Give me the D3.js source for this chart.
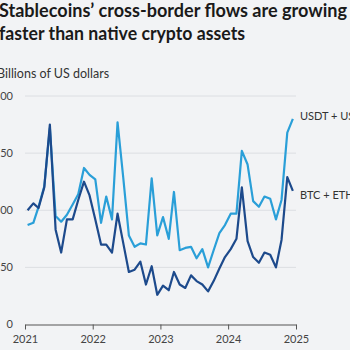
<!DOCTYPE html>
<html>
<head>
<meta charset="utf-8">
<script src="https://cdn.jsdelivr.net/npm/d3@7"></script>
<style>
  html, body { margin: 0; padding: 0; background: #f2f3f5; overflow: hidden; }
  svg { display: block; font-family: Lato, "Open Sans", sans-serif; }
</style>
</head>
<body>
<svg class="chart" width="350" height="350"></svg>
<script>
// monthly values, Jan 2021 - Dec 2024 (billions of US dollars)
const stableFlows = [
  87, 89, 103, 121, 172, 95, 90, 96, 105, 114, 137, 131,
  127, 89, 112, 92, 177, 128, 78, 68, 71, 70, 128, 78,
  94, 75, 116, 65, 67, 68, 58, 66, 50, 65, 80, 87,
  97, 97, 152, 140, 108, 103, 112, 110, 92, 109, 168, 180
]
const nativeFlows = [
  100, 106, 102, 120, 175, 83, 63, 92, 92, 109, 125, 113,
  92, 70, 70, 63, 97, 71, 46, 48, 55, 35, 51, 26,
  34, 30, 46, 35, 32, 43, 38, 35, 29, 38, 49, 59,
  66, 75, 120, 73, 59, 54, 63, 61, 50, 74, 129, 117
]
const yTicks = [0, 50, 100, 150, 200]
const yearTicks = [2021, 2022, 2023, 2024, 2025]
const seriesNames = ["USDT + USDC", "BTC + ETH"]
const colors = ["#2a9fd8", "#1d4a8c"]

const svg = d3.select(".chart")

const xScale = d3.scaleTime()
  .domain([new Date(2021, 0, 1), new Date(2025, 0, 1)])
  .range([25, 296])
const yScale = d3.scaleLinear()
  .domain([0, 200])
  .range([324.5, 96])

// title
const title = svg.append("text")
  .attr("fill", "#1a1a1a")
  .attr("font-weight", 700)
  .attr("font-size", 18)
title.append("tspan").attr("x", -1).attr("y", 17)
  .attr("textLength", 348).attr("lengthAdjust", "spacingAndGlyphs")
  .text("Stablecoins’ cross-border flows are growing")
title.append("tspan").attr("x", -1).attr("y", 40)
  .attr("textLength", 246).attr("lengthAdjust", "spacingAndGlyphs")
  .text("faster than native crypto assets")

svg.append("text")
  .attr("x", -3).attr("y", 78)
  .attr("fill", "#333")
  .attr("font-size", 12.5)
  .text("Billions of US dollars")

// grid + y labels
svg.append("g")
  .selectAll("line")
  .data(yTicks.filter(d => d > 0))
  .join("line")
  .attr("x1", 25).attr("x2", 296)
  .attr("y1", d => yScale(d)).attr("y2", d => yScale(d))
  .attr("stroke", "#dcdee2")
  .attr("stroke-width", 1)

svg.append("g")
  .selectAll("text")
  .data(yTicks)
  .join("text")
  .attr("x", 13)
  .attr("y", d => yScale(d))
  .attr("dy", "0.35em")
  .attr("text-anchor", "end")
  .attr("fill", "#444")
  .attr("font-size", 11)
  .text(d => d)

// x axis
const xAxis = svg.append("g")
  .attr("transform", "translate(0," + yScale(0) + ")")
  .call(d3.axisBottom(xScale)
    .tickValues(yearTicks.map(y => new Date(y, 0, 1)))
    .tickFormat(d3.timeFormat("%Y"))
    .tickSize(5)
    .tickSizeOuter(0)
    .tickPadding(6))
xAxis.select(".domain").attr("stroke", "#555").attr("stroke-width", 1.2)
xAxis.selectAll(".tick line").attr("stroke", "#555")
xAxis.selectAll(".tick text")
  .attr("fill", "#444")
  .attr("font-size", 11)
  .attr("font-family", "Lato, sans-serif")

// lines
const months = d3.range(48).map(i => new Date(2021 + Math.floor(i / 12), i % 12, 15))
const line = d3.line()
  .x((d, i) => xScale(months[i]))
  .y(d => yScale(d))

;[stableFlows, nativeFlows].forEach((series, k) => {
  svg.append("path")
    .datum(series)
    .attr("fill", "none")
    .attr("stroke", colors[k])
    .attr("stroke-width", 2.2)
    .attr("stroke-linejoin", "round")
    .attr("d", line)
})

// series labels
svg.append("text")
  .attr("x", 300).attr("y", 116).attr("dy", "0.35em")
  .attr("fill", "#333").attr("font-size", 11)
  .text(seriesNames[0])
svg.append("text")
  .attr("x", 300).attr("y", 195).attr("dy", "0.35em")
  .attr("fill", "#333").attr("font-size", 11)
  .text(seriesNames[1])
</script>
</body>
</html>
